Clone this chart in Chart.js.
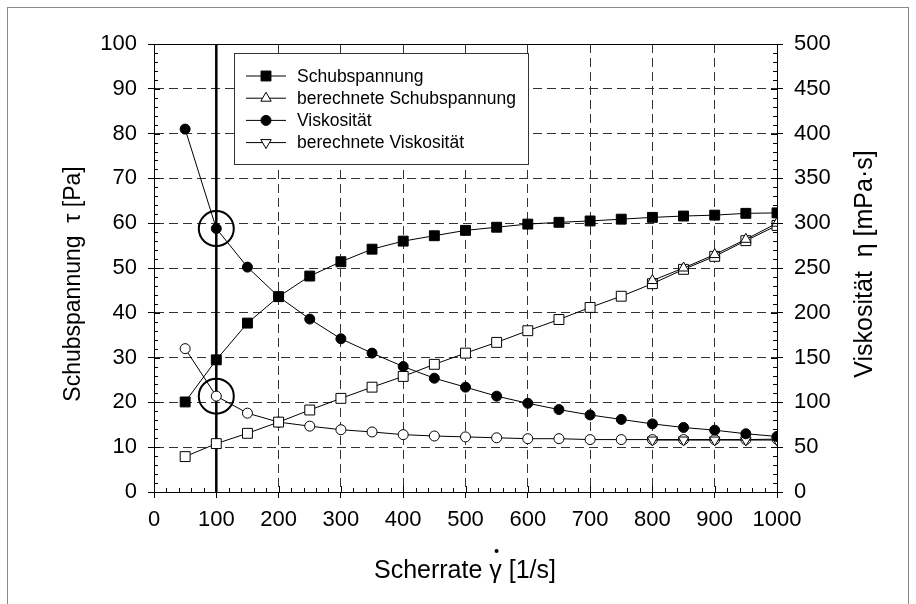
<!DOCTYPE html>
<html>
<head>
<meta charset="utf-8">
<title>Schubspannung und Viskosität</title>
<script src="https://cdn.jsdelivr.net/npm/chart.js@4.4.0/dist/chart.umd.min.js"></script>
<style>
  html, body { margin: 0; padding: 0; background: #fff; }
  #wrap { width: 916px; height: 604px; position: relative; }
</style>
</head>
<body>
<div id="wrap"><canvas id="chart"></canvas></div>
<script>
const shearRate = [50, 100, 150, 200, 250, 300, 350, 400, 450, 500, 550, 600, 650, 700, 750, 800, 850, 900, 950, 1000];
const shearStress = [20.1, 29.5, 37.7, 43.6, 48.2, 51.4, 54.2, 56.0, 57.2, 58.4, 59.1, 59.8, 60.2, 60.5, 60.9, 61.3, 61.6, 61.8, 62.2, 62.3];
const viscosity = [405, 294, 251, 218, 193, 171, 155, 140, 127, 117, 107, 99, 92, 86, 81, 76, 72, 69, 65, 62];
// second set (open symbols, not in the legend)
const shearStress2 = [7.9, 10.8, 13.1, 15.6, 18.3, 20.9, 23.4, 25.8, 28.5, 31.0, 33.4, 36.0, 38.5, 41.2, 43.7, 46.5, 49.7, 52.6, 56.1, 59.5];
const viscosity2 = [160, 107, 88, 78, 73.5, 69.5, 67, 64, 62.5, 61.5, 60.5, 59.5, 59.5, 58.5, 58.5, 58.5, 58.5, 58.5, 58.5, 59];
// calculated values
const calcRate = [800, 850, 900, 950, 1000];
const calcStress = [47.2, 50.0, 53.0, 56.4, 60.0];
const calcViscosity = [58, 58, 58, 58, 58];

const xMax = 1000, xStep = 100, xMinor = 20;
const tauMax = 100, tauStep = 10, tauMinor = 2;
const etaMax = 500, etaStep = 50, etaMinor = 10;
const markRate = 100;

const FONT = "'Liberation Sans', Arial, sans-serif";
Chart.defaults.font.family = FONT;
Chart.defaults.color = '#000';

function pts(xs, ys) {
  return xs.map((x, i) => ({ x: x, y: ys[i] }));
}

function series(label, xs, ys, axis, style, fill, radius, rot) {
  return {
    label: label,
    data: pts(xs, ys),
    yAxisID: axis,
    borderColor: '#000',
    borderWidth: 1,
    pointStyle: style,
    pointRadius: radius,
    pointRotation: rot || 0,
    pointBackgroundColor: fill,
    pointBorderColor: '#000',
    pointBorderWidth: 1,
    tension: 0,
    fill: false
  };
}

const datasets = [
  series('Schubspannung', shearRate, shearStress, 'y', 'rect', '#000', 7),
  series('berechnete Schubspannung', calcRate, calcStress, 'y', 'triangle', '#fff', 6),
  series('Viskosität', shearRate, viscosity, 'y2', 'circle', '#000', 5),
  series('berechnete Viskosität', calcRate, calcViscosity, 'y2', 'triangle', '#fff', 6, 180),
  series('', shearRate, shearStress2, 'y', 'rect', '#fff', 7),
  series('', shearRate, viscosity2, 'y2', 'circle', '#fff', 5)
];

function minorTicks(ctx, scale, step, max, dir, len) {
  for (let v = 0; v <= max; v += step) {
    const p = Math.round(scale.getPixelForValue(v)) + 0.5;
    ctx.beginPath();
    if (scale.axis === 'x') {
      ctx.moveTo(p, scale.top);
      ctx.lineTo(p, scale.top - len);
    } else {
      const x0 = dir > 0 ? scale.right : scale.left;
      ctx.moveTo(x0, p);
      ctx.lineTo(x0 + dir * len, p);
    }
    ctx.stroke();
  }
}

function rotatedText(ctx, text, x, y) {
  ctx.save();
  ctx.translate(x, y);
  ctx.rotate(-Math.PI / 2);
  ctx.fillText(text, 0, 0);
  ctx.restore();
}

const decor = {
  id: 'decor',
  beforeDatasetsDraw(chart) {
    const { ctx, chartArea: a, scales } = chart;
    const x = scales.x.getPixelForValue(markRate);
    ctx.save();
    ctx.strokeStyle = '#000';
    ctx.lineWidth = 2.5;
    ctx.beginPath();
    ctx.moveTo(x, a.top);
    ctx.lineTo(x, a.bottom);
    ctx.stroke();
    ctx.restore();
  },
  afterDraw(chart) {
    const { ctx, chartArea: a, scales } = chart;
    ctx.save();

    // outer frame
    ctx.strokeStyle = '#8a8a8a';
    ctx.lineWidth = 1;
    ctx.strokeRect(7.5, 7.5, 901, 700);

    // top frame line
    ctx.strokeStyle = '#000';
    ctx.beginPath();
    ctx.moveTo(a.left, Math.round(a.top) + 0.5);
    ctx.lineTo(a.right, Math.round(a.top) + 0.5);
    ctx.stroke();

    // minor + inner major ticks
    minorTicks(ctx, scales.x, xMinor, xMax, 0, 4);
    minorTicks(ctx, scales.x, xStep, xMax, 0, 6);
    minorTicks(ctx, scales.y, tauMinor, tauMax, 1, 4);
    minorTicks(ctx, scales.y, tauStep, tauMax, 1, 6);
    minorTicks(ctx, scales.y2, etaMinor, etaMax, -1, 4);
    minorTicks(ctx, scales.y2, etaStep, etaMax, -1, 6);

    // circles around the points at the marked shear rate
    const cx = scales.x.getPixelForValue(markRate);
    ctx.lineWidth = 2;
    [viscosity[1], viscosity2[1]].forEach(v => {
      ctx.beginPath();
      ctx.arc(cx, scales.y2.getPixelForValue(v), 17.5, 0, Math.PI * 2);
      ctx.stroke();
    });

    // legend box
    ctx.fillStyle = '#fff';
    ctx.fillRect(234.5, 53.5, 294, 111);
    ctx.strokeStyle = '#333';
    ctx.lineWidth = 1;
    ctx.strokeRect(234.5, 53.5, 294, 111);
    ctx.font = '17.5px ' + FONT;
    ctx.textBaseline = 'middle';
    ctx.textAlign = 'left';
    datasets.filter(d => d.label).forEach((d, i) => {
      const y = 76 + i * 22.2;
      ctx.strokeStyle = '#000';
      ctx.lineWidth = 1;
      ctx.beginPath();
      ctx.moveTo(246, y);
      ctx.lineTo(286, y);
      ctx.stroke();
      ctx.fillStyle = d.pointBackgroundColor;
      Chart.helpers.drawPoint(ctx, {
        pointStyle: d.pointStyle, radius: d.pointRadius, rotation: d.pointRotation, borderWidth: 1
      }, 266, y);
      ctx.fillStyle = '#000';
      ctx.fillText(d.label, 297, y + 1);
    });

    // axis titles
    ctx.fillStyle = '#000';
    ctx.textBaseline = 'alphabetic';
    ctx.font = '25px ' + FONT;
    const xt1 = 'Scherrate ', xt2 = 'γ', xt3 = ' [1/s]';
    const w1 = ctx.measureText(xt1).width, w2 = ctx.measureText(xt2).width, w3 = ctx.measureText(xt3).width;
    const tx = 465 - (w1 + w2 + w3) / 2;
    ctx.fillText(xt1 + xt2 + xt3, tx, 578);
    ctx.beginPath();
    ctx.arc(tx + w1 + w2 / 2 + 1, 551, 2, 0, Math.PI * 2);
    ctx.fill();

    ctx.textAlign = 'center';
    rotatedText(ctx, 'Viskosität  η [mPa·s]', 872, 264);
    ctx.font = '23px ' + FONT;
    rotatedText(ctx, 'Schubspannung  τ [Pa]', 80, 284);

    ctx.restore();
  }
};

const gridLine = { color: '#333', lineWidth: 1, tickLength: 6, tickColor: '#000', tickWidth: 1 };
const tickFont = { family: FONT, size: 22 };
const plain = v => String(v);

new Chart(document.getElementById('chart'), {
  type: 'line',
  data: { datasets: datasets },
  options: {
    responsive: true,
    maintainAspectRatio: false,
    animation: false,
    layout: { padding: { top: 44, left: 0, right: 0, bottom: 0 } },
    plugins: { legend: { display: false }, tooltip: { enabled: false } },
    scales: {
      x: {
        type: 'linear', min: 0, max: xMax,
        ticks: { stepSize: xStep, font: tickFont, padding: 9, maxRotation: 0, color: '#000', callback: plain },
        grid: gridLine,
        border: { display: true, color: '#000', width: 1, dash: [9, 5] },
        afterFit: s => { s.height = 112; }
      },
      y: {
        type: 'linear', position: 'left', min: 0, max: tauMax,
        ticks: { stepSize: tauStep, font: tickFont, padding: 11, color: '#000', callback: plain },
        grid: gridLine,
        border: { display: true, color: '#000', width: 1, dash: [9, 5] },
        afterFit: s => { s.width = 154; }
      },
      y2: {
        type: 'linear', position: 'right', min: 0, max: etaMax,
        ticks: { stepSize: etaStep, font: tickFont, padding: 11, color: '#000', callback: plain },
        grid: Object.assign({}, gridLine, { drawOnChartArea: false }),
        border: { display: true, color: '#000', width: 1 },
        afterFit: s => { s.width = 139; }
      }
    }
  },
  plugins: [decor]
});
</script>
</body>
</html>
